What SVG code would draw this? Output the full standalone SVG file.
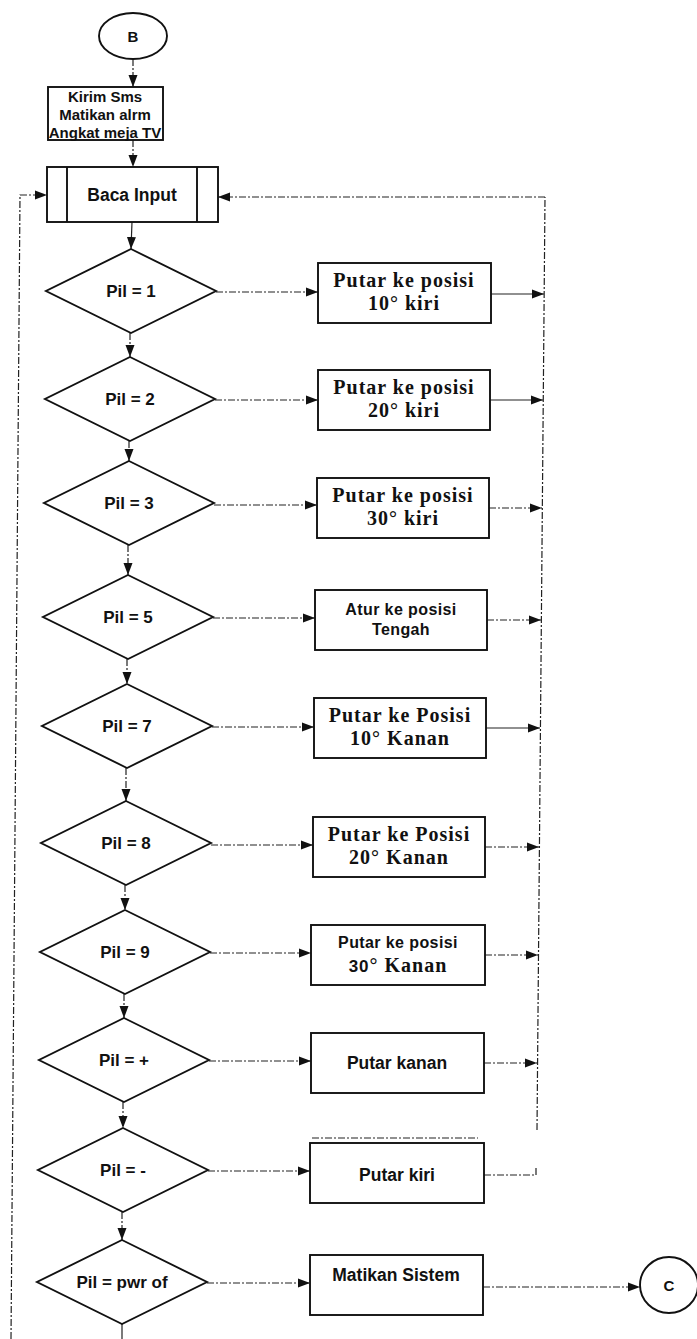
<svg xmlns="http://www.w3.org/2000/svg" width="697" height="1339" viewBox="0 0 697 1339">
<style>
.shape{fill:#fff;stroke:#111;stroke-width:1.9}
.conn{fill:none;stroke:#222;stroke-width:1.2;stroke-dasharray:7 2 2 2}
.solid{stroke-dasharray:none}
.arr{marker-end:url(#ah)}
.sans{font-family:"Liberation Sans",Arial,sans-serif;font-weight:bold;text-anchor:middle;fill:#111}
.serif{font-family:"Liberation Serif","Times New Roman",serif;font-weight:bold;text-anchor:middle;fill:#111}
.lbl{font-size:17px}
.s15{font-size:15px}
.s16{font-size:16px;letter-spacing:0.4px}
.s17{font-size:17.5px}
.r20{font-size:20px;letter-spacing:1px}
</style>
<defs>
<marker id="ah" viewBox="0 0 12 10" refX="12" refY="5" markerWidth="12" markerHeight="10" markerUnits="userSpaceOnUse" orient="auto"><path d="M0,0.5 L12,5 L0,9.5 z" fill="#111"/></marker>
</defs>
<rect width="697" height="1339" fill="#fff"/>

<g id="connectors">
<line class="conn arr" x1="133" y1="59" x2="133" y2="87"/>
<line class="conn arr" x1="133" y1="140" x2="133" y2="167"/>
<line class="conn solid arr" x1="132" y1="222" x2="131" y2="249"/>
<line class="conn arr" x1="130" y1="333" x2="130" y2="357"/>
<line class="conn arr" x1="129" y1="441" x2="129" y2="461"/>
<line class="conn arr" x1="128" y1="545" x2="128" y2="575"/>
<line class="conn arr" x1="127" y1="659" x2="127" y2="684"/>
<line class="conn arr" x1="126" y1="768" x2="126" y2="801"/>
<line class="conn arr" x1="125" y1="885" x2="125" y2="910"/>
<line class="conn arr" x1="124" y1="994" x2="124" y2="1018"/>
<line class="conn arr" x1="123" y1="1102" x2="123" y2="1128"/>
<line class="conn arr" x1="122" y1="1212" x2="122" y2="1240"/>
<line class="conn solid" x1="122" y1="1324" x2="122" y2="1339"/>
<line class="conn arr" x1="216" y1="292" x2="318" y2="292"/>
<line class="conn arr" x1="215" y1="400" x2="318" y2="400"/>
<line class="conn arr" x1="214" y1="505" x2="317" y2="505"/>
<line class="conn arr" x1="213" y1="618" x2="315" y2="618"/>
<line class="conn arr" x1="212" y1="727" x2="314" y2="727"/>
<line class="conn arr" x1="211" y1="845" x2="313" y2="845"/>
<line class="conn arr" x1="210" y1="953" x2="311" y2="953"/>
<line class="conn arr" x1="209" y1="1061" x2="311" y2="1061"/>
<line class="conn arr" x1="208" y1="1171" x2="310" y2="1171"/>
<line class="conn arr" x1="207" y1="1283" x2="310" y2="1283"/>
<line class="conn solid arr" x1="491" y1="294" x2="544" y2="294"/>
<line class="conn solid arr" x1="490" y1="400" x2="543" y2="400"/>
<line class="conn arr" x1="489" y1="508" x2="542" y2="508"/>
<line class="conn arr" x1="487" y1="620" x2="541" y2="620"/>
<line class="conn solid arr" x1="486" y1="728" x2="540" y2="728"/>
<line class="conn arr" x1="485" y1="847" x2="539" y2="847"/>
<line class="conn arr" x1="485" y1="955" x2="538" y2="955"/>
<line class="conn arr" x1="484" y1="1063" x2="537" y2="1063"/>
<polyline class="conn" points="484,1175 536,1175 536,1166"/>
<line class="conn arr" x1="483" y1="1287" x2="640" y2="1287"/>
<polyline class="conn" points="537,1130 545,197"/>
<line class="conn arr" x1="545" y1="197" x2="218" y2="197"/>
<polyline class="conn arr" points="11,1339 20,195 47,195"/>
<line class="conn" x1="312" y1="1138" x2="478" y2="1138" stroke-width="0.8"/>
</g>

<g id="start-B">
<ellipse class="shape" cx="133" cy="36" rx="34" ry="23"/>
<text class="sans s15" x="133" y="42">B</text>
</g>

<g id="kirim-sms">
<rect class="shape" x="48" y="87" width="115" height="53"/>
<text class="sans s15" x="105" y="102">Kirim Sms</text>
<text class="sans s15" x="105" y="120">Matikan alrm</text>
<text class="sans s15" x="105" y="138">Angkat meja TV</text>
</g>

<g id="baca-input">
<rect class="shape" x="47" y="167" width="171" height="55"/>
<line class="shape" x1="67" y1="167" x2="67" y2="222"/>
<line class="shape" x1="197" y1="167" x2="197" y2="222"/>
<text class="sans s17" x="132" y="201">Baca Input</text>
</g>

<g id="pil-1">
<polygon class="shape" points="131,249 216,291 131,333 46,291"/>
<text class="sans lbl" x="131" y="297">Pil = 1</text>
</g>
<g id="putar-10-kiri">
<rect class="shape" x="318" y="263" width="173" height="60"/>
<text class="serif r20" x="404" y="287">Putar ke posisi</text>
<text class="serif r20" x="404" y="310">10° kiri</text>
</g>

<g id="pil-2">
<polygon class="shape" points="130,357 215,399 130,441 45,399"/>
<text class="sans lbl" x="130" y="405">Pil = 2</text>
</g>
<g id="putar-20-kiri">
<rect class="shape" x="318" y="370" width="172" height="60"/>
<text class="serif r20" x="404" y="394">Putar ke posisi</text>
<text class="serif r20" x="404" y="417">20° kiri</text>
</g>

<g id="pil-3">
<polygon class="shape" points="129,461 214,503 129,545 44,503"/>
<text class="sans lbl" x="129" y="509">Pil = 3</text>
</g>
<g id="putar-30-kiri">
<rect class="shape" x="317" y="478" width="172" height="60"/>
<text class="serif r20" x="403" y="502">Putar ke posisi</text>
<text class="serif r20" x="403" y="525">30° kiri</text>
</g>

<g id="pil-5">
<polygon class="shape" points="128,575 213,617 128,659 43,617"/>
<text class="sans lbl" x="128" y="623">Pil = 5</text>
</g>
<g id="atur-tengah">
<rect class="shape" x="315" y="590" width="172" height="60"/>
<text class="sans s16" x="401" y="615">Atur ke posisi</text>
<text class="sans s16" x="401" y="635">Tengah</text>
</g>

<g id="pil-7">
<polygon class="shape" points="127,684 212,726 127,768 42,726"/>
<text class="sans lbl" x="127" y="732">Pil = 7</text>
</g>
<g id="putar-10-kanan">
<rect class="shape" x="314" y="698" width="172" height="60"/>
<text class="serif r20" x="400" y="722">Putar ke Posisi</text>
<text class="serif r20" x="400" y="745">10° Kanan</text>
</g>

<g id="pil-8">
<polygon class="shape" points="126,801 211,843 126,885 41,843"/>
<text class="sans lbl" x="126" y="849">Pil = 8</text>
</g>
<g id="putar-20-kanan">
<rect class="shape" x="313" y="817" width="172" height="60"/>
<text class="serif r20" x="399" y="841">Putar ke Posisi</text>
<text class="serif r20" x="399" y="864">20° Kanan</text>
</g>

<g id="pil-9">
<polygon class="shape" points="125,910 210,952 125,994 40,952"/>
<text class="sans lbl" x="125" y="958">Pil = 9</text>
</g>
<g id="putar-30-kanan">
<rect class="shape" x="311" y="925" width="174" height="60"/>
<text class="sans s16" x="398" y="948">Putar ke posisi</text>
<text class="serif r20" x="398" y="972"><tspan font-family="'Liberation Sans',Arial,sans-serif" font-size="17">30</tspan>° Kanan</text>
</g>

<g id="pil-plus">
<polygon class="shape" points="124,1018 209,1060 124,1102 39,1060"/>
<text class="sans lbl" x="124" y="1066">Pil = +</text>
</g>
<g id="putar-kanan">
<rect class="shape" x="311" y="1033" width="173" height="60"/>
<text class="sans s17" x="397" y="1069">Putar kanan</text>
</g>

<g id="pil-minus">
<polygon class="shape" points="123,1128 208,1170 123,1212 38,1170"/>
<text class="sans lbl" x="123" y="1176">Pil = -</text>
</g>
<g id="putar-kiri">
<rect class="shape" x="310" y="1143" width="174" height="60"/>
<text class="sans s17" x="397" y="1181">Putar kiri</text>
</g>

<g id="pil-pwr">
<polygon class="shape" points="122,1240 207,1282 122,1324 37,1282"/>
<text class="sans lbl" x="122" y="1288">Pil = pwr of</text>
</g>
<g id="matikan-sistem">
<rect class="shape" x="310" y="1255" width="173" height="60"/>
<text class="sans s17" x="396" y="1281">Matikan Sistem</text>
</g>

<g id="end-C">
<ellipse class="shape" cx="669" cy="1285" rx="29" ry="28"/>
<text class="sans s15" x="669" y="1291">C</text>
</g>
</svg>
